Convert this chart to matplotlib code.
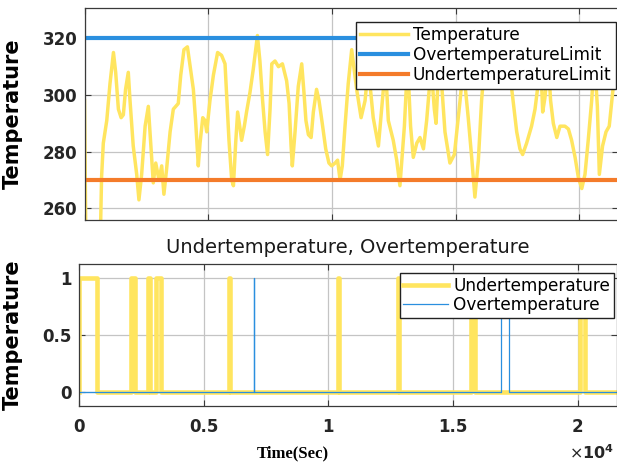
import numpy as np
import matplotlib
matplotlib.use("Agg")
import matplotlib.pyplot as plt

# temperature trace (seconds, kelvin)
t_temp = [0, 60, 630, 690, 760, 900, 1030, 1170, 1260, 1370, 1480, 1570, 1660, 1770, 1840,
          1970, 2110, 2200, 2310, 2450, 2580, 2670, 2780, 2880, 3010, 3120, 3210, 3320, 3460,
          3590, 3790, 3890, 4020, 4160, 4290, 4400, 4490, 4600, 4670, 4780, 4870, 4940, 5070,
          5210, 5380, 5540, 5680, 5750, 5840, 5950, 6020, 6110, 6190, 6290, 6350, 6460, 6550,
          6690, 6820, 6920, 6990, 7090, 7190, 7300, 7400, 7500, 7570, 7700, 7840, 8000, 8170,
          8270, 8350, 8400, 8510, 8640, 8780, 8870, 8950, 9050, 9160, 9250, 9380, 9480, 9610,
          9750, 9880, 9990, 10130, 10230, 10330, 10420, 10530, 10660, 10800, 11000, 11180,
          11340, 11470, 11670, 11880, 12080, 12150, 12280, 12480, 12620, 12750, 12930, 13060,
          13180, 13290, 13430, 13560, 13700, 13830, 14010, 14140, 14210, 14300, 14380, 14570,
          14770, 14950, 15180, 15310, 15510, 15650, 15780, 15920, 16050, 16160, 16300, 16600,
          16850, 17270, 17470, 17600, 17710, 17870, 18070, 18210, 18380, 18450, 18520, 18610,
          18710, 18750, 18840, 18950, 19090, 19220, 19420, 19560, 19690, 19830, 19960, 20100,
          20230, 20360, 20500, 20610, 20730, 20810, 20940, 21080, 21210, 21350, 21520]
temp = [298, 245, 245, 271, 283, 291, 304, 315, 308, 295, 292, 293, 302, 308, 298,
        282, 272, 263, 272, 289, 296, 284, 269, 276, 270, 275, 265, 274, 287,
        295, 297, 307, 316, 317, 309, 302, 291, 275, 283, 292, 291, 287, 298,
        307, 315, 314, 311, 299, 284, 270, 268, 283, 294, 288, 284, 289, 294,
        301, 309, 316, 321, 312, 299, 287, 279, 295, 311, 312, 310, 311, 305,
        297, 282, 275, 287, 303, 311, 301, 291, 286, 285, 294, 302, 298, 290,
        281, 276, 275, 276, 277, 270, 275, 289, 304, 316, 302, 292,
        298, 310, 292, 282, 302, 313, 291, 284, 277, 268, 289, 312,
        289, 278, 283, 285, 281, 291, 310, 295, 290, 307, 311, 287,
        276, 279, 298, 310, 292, 278, 264, 277, 298, 310, 312, 304,
        314, 302, 287, 281, 279, 283, 289, 295, 307, 310, 294, 299,
        308, 311, 298, 290, 285, 289, 289, 288, 284, 278, 271, 267,
        272, 284, 298, 313, 296, 272, 282, 287, 289, 301, 313]

over_limit = 320
under_limit = 270

# flag signals (step changes)
t_under = [0, 0, 720, 2100, 2250, 2780, 2830, 3100, 3270, 6010, 6040, 10390, 10420,
           12790, 12820, 15730, 15860, 20090, 20300, 21600]
under = [0, 1, 0, 1, 0, 1, 0, 1, 0, 1, 0, 1, 0, 1, 0, 1, 0, 1, 0, 0]
t_over = [0, 7010, 7025, 16920, 17240, 21600]
over = [0, 1, 0, 1, 0, 0]

x_ticks = [0, 5000, 10000, 15000, 20000]
x_ticklabels = ['0', '0.5', '1', '1.5', '2']

yellow = '#FFE55F'
blue = '#2A8FDF'
orange = '#F47B2A'

W, H = 617, 468
fig = plt.figure(figsize=(W / 100, H / 100), dpi=100)
xmax = 21560


def style(ax):
    ax.grid(True, color='#c4c4c4', lw=0.9)
    ax.set_axisbelow(True)
    for s in ax.spines.values():
        s.set_color('#3a3a3a')
        s.set_linewidth(0.9)
    ax.tick_params(direction='in', length=4, width=0.8, color='#3a3a3a',
                   top=True, right=True, labelsize=12, pad=5)
    for lab in ax.get_yticklabels() + ax.get_xticklabels():
        lab.set_fontweight('bold')
        lab.set_color('#262626')


# top panel
ax1 = fig.add_axes([84.5 / W, 1 - 220 / H, (xmax / 1000 * 24.74) / W, 212 / H])
ax1.plot(t_temp, temp, color=yellow, lw=2.5, label='Temperature')
ax1.plot([0, xmax], [over_limit, over_limit], color=blue, lw=3, label='OvertemperatureLimit')
ax1.plot([0, xmax], [under_limit, under_limit], color=orange, lw=3, label='UndertemperatureLimit')
ax1.set_xlim(0, xmax)
ax1.set_ylim(255.9, 330.7)
ax1.set_yticks([260, 280, 300, 320])
ax1.set_xticks(x_ticks)
ax1.set_xticklabels([])
style(ax1)
ax1.set_ylabel('Temperature', fontsize=15, fontweight='bold', labelpad=6)
ax1.yaxis.set_label_coords(-62 / (xmax / 1000 * 24.74), 0.5)
leg1 = ax1.legend(loc='upper right', bbox_to_anchor=(615.5 / W, 1 - 22 / H),
                  bbox_transform=fig.transFigure, fontsize=12.2, frameon=True, fancybox=False,
                  framealpha=1, edgecolor='#222222', borderpad=0.25, labelspacing=0.12,
                  handlelength=2.8, handletextpad=0.3, borderaxespad=0)
leg1.get_frame().set_linewidth(1.0)

# bottom panel
ax2 = fig.add_axes([79 / W, 1 - 405.7 / H, (xmax / 1000 * 24.94) / W, 141.4 / H])
ax2.plot(t_under, under, color=yellow, lw=3.3, drawstyle='steps-post', label='Undertemperature')
ax2.plot(t_over, over, color=blue, lw=0.9, drawstyle='steps-post', label='Overtemperature')
ax2.set_xlim(0, xmax)
ax2.set_ylim(-0.123, 1.117)
ax2.set_yticks([0, 0.5, 1])
ax2.set_yticklabels(['0', '0.5', '1'])
ax2.set_xticks(x_ticks)
ax2.set_xticklabels(x_ticklabels)
style(ax2)
ax2.tick_params(axis='x', pad=9)
ax2.set_ylabel('Temperature', fontsize=15, fontweight='bold')
ax2.yaxis.set_label_coords(-56.5 / (xmax / 1000 * 24.94), 0.5)
ax2.set_title('Undertemperature, Overtemperature', fontsize=14, color='#1a1a1a', pad=8)
leg2 = ax2.legend(loc='upper right', bbox_to_anchor=(613.5 / W, 1 - 273.3 / H),
                  bbox_transform=fig.transFigure, fontsize=12.2, frameon=True, fancybox=False,
                  framealpha=1, edgecolor='#222222', borderpad=0.2, labelspacing=0.1,
                  handlelength=2.65, handletextpad=0.3, borderaxespad=0)
leg2.get_frame().set_linewidth(1.0)

fig.text(293 / W, 1 - 453 / H, 'Time(Sec)', ha='center', va='center',
         fontsize=12, fontweight='bold', family='Liberation Serif')
fig.text(569 / W, 1 - 453 / H, r'$\times\mathbf{10^{4}}$', ha='left', va='center',
         fontsize=11.5, color='#262626')

fig.savefig('out.png', dpi=100)
